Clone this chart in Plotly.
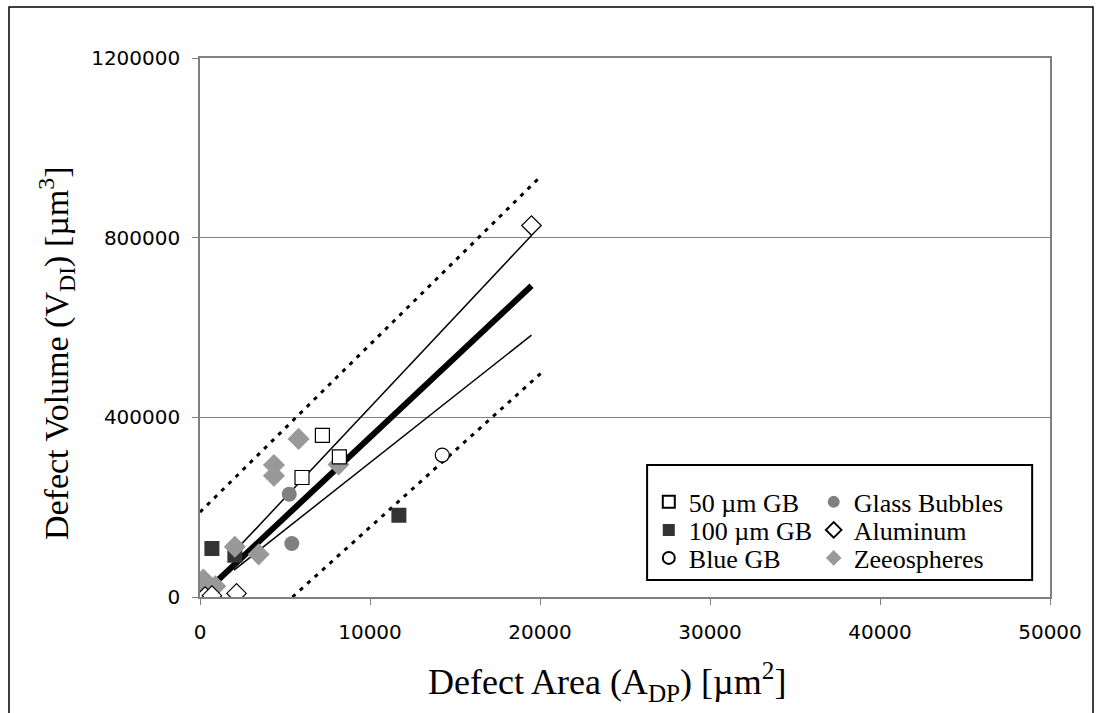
import plotly.graph_objects as go

# ---- data ----
gb50_x = [7200, 8200, 6000]
gb50_y = [360000, 312000, 266000]

gb100_x = [700, 2050, 11700]
gb100_y = [108000, 93000, 182000]

blue_x = [14250]
blue_y = [316000]

glass_x = [5250, 5400]
glass_y = [229000, 119000]

alu_x = [300, 700, 2150, 19500]
alu_y = [1000, 3000, 8000, 827000]

zeo_x = [5800, 4350, 4350, 8150, 2050, 3450, 200, 900, 150]
zeo_y = [352000, 294000, 270000, 295000, 112000, 95000, 39000, 24000, 15000]

fit_x = [250, 19500]
fit_y = [9000, 693000]

conf_up_x = [2000, 19500]
conf_up_y = [100000, 805000]
conf_lo_x = [2000, 19500]
conf_lo_y = [60000, 583000]

pred_up_x = [0, 20000]
pred_up_y = [189000, 935000]
pred_lo_x = [5000, 20200]
pred_lo_y = [-15000, 503000]

x_ticks = [0, 10000, 20000, 30000, 40000, 50000]
y_ticks = [0, 400000, 800000, 1200000]

x_title = "Defect Area (A<sub>DP</sub>) [µm<sup>2</sup>]"
y_title = "Defect Volume (V<sub>DI</sub>) [µm<sup>3</sup>]"

SERIF = "Liberation Serif, Times New Roman, serif"
SANS = "DejaVu Sans, Arial, sans-serif"

fig = go.Figure()

# regression / band lines
fig.add_trace(go.Scatter(x=pred_up_x, y=pred_up_y, mode="lines", showlegend=False,
                         line=dict(color="black", width=3, dash="4px,6px"), cliponaxis=False))
fig.add_trace(go.Scatter(x=pred_lo_x, y=pred_lo_y, mode="lines", showlegend=False,
                         line=dict(color="black", width=3, dash="4px,6px"), cliponaxis=False))
fig.add_trace(go.Scatter(x=conf_up_x, y=conf_up_y, mode="lines", showlegend=False,
                         line=dict(color="black", width=1.5)))
fig.add_trace(go.Scatter(x=conf_lo_x, y=conf_lo_y, mode="lines", showlegend=False,
                         line=dict(color="black", width=1.5)))
fig.add_trace(go.Scatter(x=fit_x, y=fit_y, mode="lines", showlegend=False,
                         line=dict(color="black", width=6)))

# data series (each in its own legend so the two-column box can be laid out exactly)
fig.add_trace(go.Scatter(x=gb100_x, y=gb100_y, mode="markers", name="100 µm GB", legend="legend2",
                         marker=dict(symbol="square", size=15, color="#333333",
                                     line=dict(color="#333333", width=0))))
fig.add_trace(go.Scatter(x=glass_x, y=glass_y, mode="markers", name="Glass Bubbles", legend="legend4",
                         marker=dict(symbol="circle", size=15, color="#808080",
                                     line=dict(color="#808080", width=0))))
fig.add_trace(go.Scatter(x=zeo_x, y=zeo_y, mode="markers", name="Zeeospheres", legend="legend6",
                         marker=dict(symbol="diamond", size=17, color="#999999",
                                     line=dict(color="#999999", width=0))))
fig.add_trace(go.Scatter(x=gb50_x, y=gb50_y, mode="markers", name="50 µm GB", legend="legend",
                         marker=dict(symbol="square", size=14, color="white",
                                     line=dict(color="black", width=1.2))))
fig.add_trace(go.Scatter(x=blue_x, y=blue_y, mode="markers", name="Blue GB", legend="legend3",
                         marker=dict(symbol="circle", size=14, color="white",
                                     line=dict(color="black", width=1.2))))
fig.add_trace(go.Scatter(x=alu_x, y=alu_y, mode="markers", name="Aluminum", legend="legend5",
                         marker=dict(symbol="diamond", size=15, color="white",
                                     line=dict(color="black", width=1.2))))

axis_common = dict(showline=True, linecolor="#808080", linewidth=1.5, mirror=True,
                   ticks="outside", ticklen=6, tickcolor="#808080", tickwidth=1,
                   tickfont=dict(family=SANS, size=20, color="black"), zeroline=False)

row_y = [0.1763, 0.1243, 0.0724]
col_x = [0.528, 0.722]


def leg(x, y):
    return dict(x=x, y=y, xanchor="left", yanchor="middle", bgcolor="rgba(0,0,0,0)",
                font=dict(family=SERIF, size=26, color="black"), tracegroupgap=0,
                itemsizing="constant")


fig.update_layout(
    width=1101, height=713,
    margin=dict(l=200, r=51, t=58, b=116),
    paper_bgcolor="white", plot_bgcolor="white",
    xaxis=dict(range=[0, 50000], tickvals=x_ticks, ticktext=[str(v) for v in x_ticks],
               showgrid=False, ticklabelstandoff=10, **axis_common),
    yaxis=dict(range=[0, 1200000], tickvals=y_ticks, ticktext=[str(v) for v in y_ticks],
               showgrid=True, gridcolor="#808080", gridwidth=1.2, ticklabelstandoff=8,
               **axis_common),
    legend=leg(col_x[0], row_y[0]),
    legend2=leg(col_x[0], row_y[1]),
    legend3=leg(col_x[0], row_y[2]),
    legend4=leg(col_x[1], row_y[0]),
    legend5=leg(col_x[1], row_y[1]),
    legend6=leg(col_x[1], row_y[2]),
    annotations=[
        dict(text=x_title, xref="paper", yref="paper", x=0.4788, y=-0.158,
             xanchor="center", yanchor="middle", showarrow=False,
             font=dict(family=SERIF, size=36, color="black")),
        dict(text=y_title, xref="paper", yref="paper", x=-0.1682, y=0.4527,
             xanchor="center", yanchor="middle", showarrow=False, textangle=-90,
             font=dict(family=SERIF, size=34, color="black")),
    ],
    shapes=[
        dict(type="rect", xref="paper", yref="paper", x0=0.526, x1=0.979, y0=0.0315, y1=0.245,
             line=dict(color="black", width=2), fillcolor="white", layer="below"),
        dict(type="rect", xref="paper", yref="paper", x0=-0.2247, x1=1.0506, y0=-0.25, y1=1.0946,
             line=dict(color="black", width=1.5), fillcolor="rgba(0,0,0,0)", layer="below"),
    ],
)

fig.write_html("out.html")
